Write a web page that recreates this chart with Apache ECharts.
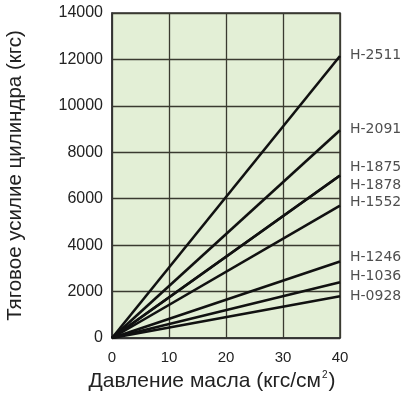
<!DOCTYPE html>
<html>
<head>
<meta charset="utf-8">
<script src="https://cdn.jsdelivr.net/npm/echarts@6/dist/echarts.min.js"></script>
<style>
html,body{margin:0;padding:0;background:#fff;}
#c{width:414px;height:406px;}
</style>
</head>
<body>
<div id="c"></div>
<script>
// Data: pulling force (kgf) at 0 and 40 kgf/cm² for each cylinder
var models = ['H-2511', 'H-2091', 'H-1875', 'H-1878', 'H-1552', 'H-1246', 'H-1036', 'H-0928'];
var pressure = [0, 40];
var forceAt40 = [12150, 8950, 7000, 7000, 5700, 3300, 2400, 1800];
// where each model name sits along the right edge (in force units)
var labelAt = [12180, 8990, 7360, 6590, 5850, 3490, 2670, 1810];
var xTicks = [0, 10, 20, 30, 40];
var yTicks = [0, 2000, 4000, 6000, 8000, 10000, 12000, 14000];

var chart = echarts.init(document.getElementById('c'), null, {renderer: 'canvas'});
var font = 'Liberation Sans';
var wide = 'DejaVu Sans';

var series = [];
models.forEach(function (m, i) {
  series.push({
    type: 'line',
    name: m,
    data: pressure.map(function (p, k) { return [p, k === 0 ? 0 : forceAt40[i]]; }),
    symbol: 'none',
    lineStyle: {color: '#111', width: 2.6},
    silent: true,
    z: 5
  });
});
series.push({
  type: 'scatter',
  data: models.map(function (m, i) { return {value: [40, labelAt[i]], name: m}; }),
  symbolSize: 0,
  silent: true,
  label: {
    show: true,
    position: 'right',
    distance: 10,
    formatter: function (p) { return p.name; },
    color: '#222',
    fontFamily: wide,
    fontSize: 14
  },
  z: 6
});

chart.setOption({
  animation: false,
  backgroundColor: '#fff',
  grid: {left: 112, right: 74, top: 13, bottom: 68, outerBoundsMode: 'none', containLabel: false, show: true, backgroundColor: '#e3efd6', borderColor: '#333', borderWidth: 1.5},
  xAxis: {
    type: 'value', min: xTicks[0], max: xTicks[xTicks.length - 1], interval: 10,
    axisLine: {show: true, lineStyle: {color: '#333', width: 1.5}},
    axisTick: {show: false},
    splitLine: {show: true, lineStyle: {color: '#3a3a30', width: 1.3}},
    axisLabel: {color: '#222', fontFamily: font, fontSize: 15, margin: 12, formatter: function (v) { return String(v); }},
    name: '{a|Давление масла (кгс/см}{s|2}{a|)}',
    nameLocation: 'middle',
    nameGap: 28,
    nameTextStyle: {
      padding: [0, 28, 0, 0],
      rich: {
        a: {fontFamily: font, fontSize: 21, color: '#222'},
        s: {fontFamily: font, fontSize: 10, color: '#222', verticalAlign: 'top', padding: [0, 1, 12, 1]}
      }
    }
  },
  yAxis: {
    type: 'value', min: yTicks[0], max: yTicks[yTicks.length - 1], interval: 2000,
    axisLine: {show: true, lineStyle: {color: '#333', width: 1.5}},
    axisTick: {show: false},
    splitLine: {show: true, lineStyle: {color: '#3a3a30', width: 1.3}},
    axisLabel: {color: '#222', fontFamily: font, fontSize: 16, margin: 9, formatter: function (v) { return String(v); }},
    name: 'Тяговое усилие цилиндра (кгс)',
    nameLocation: 'middle',
    nameGap: 86,
    nameTextStyle: {fontFamily: font, fontSize: 20.5, color: '#222'}
  },
  series: series
});
</script>
</body>
</html>
